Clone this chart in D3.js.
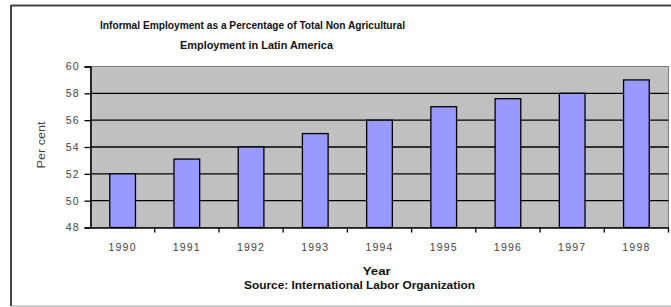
<!DOCTYPE html>
<html><head><meta charset="utf-8">
<script src="https://cdn.jsdelivr.net/npm/d3@7"></script>
<style>html,body{margin:0;padding:0;background:#fff;}svg{display:block;}</style>
</head><body>
<svg id="c" width="671" height="307"></svg>
<script>
const years = ["1990","1991","1992","1993","1994","1995","1996","1997","1998"];
const values = [52.0, 53.1, 54.0, 55.0, 56.0, 57.0, 57.6, 58.0, 59.0];
const yTicks = [48, 50, 52, 54, 56, 58, 60];
const titleLines = ["Informal Employment as a Percentage of Total Non Agricultural", "Employment in Latin America"];
const xTitle = "Year";
const sourceText = "Source: International Labor Organization";
const yTitle = "Per cent";

const svg = d3.select("#c");
const W = 671, H = 307;
const m = {l: 90.5, r: 668.5, t: 66.5, b: 227.5};
const tf = "Liberation Sans, Arial, sans-serif";

// outer frame
svg.append("line").attr("x1",11).attr("x2",W).attr("y1",5.5).attr("y2",5.5).attr("stroke","#444").attr("stroke-width",2);
svg.append("line").attr("x1",11).attr("x2",11).attr("y1",5).attr("y2",306).attr("stroke","#444").attr("stroke-width",2);
svg.append("line").attr("x1",11).attr("x2",W).attr("y1",306).attr("y2",306).attr("stroke","#999").attr("stroke-width",1);

const x = d3.scaleBand().domain(years).range([m.l, m.r]).paddingInner(0.6).paddingOuter(0.3);
const xb = d3.scaleBand().domain(years).range([m.l, m.r]);
const y = d3.scaleLinear().domain([48, 60]).range([m.b, m.t]);

// plot background
svg.append("rect").attr("x",m.l).attr("y",m.t).attr("width",m.r-m.l).attr("height",m.b-m.t)
  .attr("fill","#c0c0c0").attr("stroke","#808080").attr("stroke-width",1);

// gridlines
svg.append("g").selectAll("line").data(yTicks.filter(t => t>48 && t<60)).join("line")
  .attr("x1",m.l).attr("x2",m.r).attr("y1",d=>y(d)).attr("y2",d=>y(d))
  .attr("stroke","#000").attr("stroke-width",1.3);

// bars
svg.append("g").selectAll("rect").data(values).join("rect")
  .attr("x",(d,i)=>x(years[i])).attr("width",x.bandwidth())
  .attr("y",d=>y(d)).attr("height",d=>y(48)-y(d))
  .attr("fill","#9999ff").attr("stroke","#000").attr("stroke-width",1.3);

// y axis
const ya = svg.append("g").attr("transform",`translate(${m.l},0)`)
  .call(d3.axisLeft(y).tickValues(yTicks).tickSize(6).tickPadding(5));
ya.select(".domain").attr("stroke","#000").attr("stroke-width",1.5);
ya.selectAll(".tick line").attr("stroke","#000").attr("stroke-width",1.3);
ya.selectAll("text").attr("font-family",tf).attr("font-size",10.5).attr("letter-spacing",1).attr("fill","#444");

// x axis
const xa = svg.append("g").attr("transform",`translate(0,${m.b})`)
  .call(d3.axisBottom(xb).tickSize(0).tickPadding(16));
xa.select(".domain").attr("stroke","#000").attr("stroke-width",1.5);
xa.selectAll("text").attr("font-family",tf).attr("font-size",10.5).attr("letter-spacing",1.2).attr("fill","#444");
svg.append("g").selectAll("line").data(years.slice(1).concat(["end"])).join("line")
  .attr("x1",(d,i)=> i<years.length-1 ? xb(d) : m.r).attr("x2",(d,i)=> i<years.length-1 ? xb(d) : m.r)
  .attr("y1",m.b).attr("y2",m.b+5).attr("stroke","#000").attr("stroke-width",1.3);

// titles
svg.append("text").attr("x",252.5).attr("y",29).attr("text-anchor","middle").attr("font-family",tf)
  .attr("font-weight","bold").attr("font-size",11.5).attr("fill","#111")
  .attr("textLength",305).attr("lengthAdjust","spacingAndGlyphs").text(titleLines[0]);
svg.append("text").attr("x",256.5).attr("y",49).attr("text-anchor","middle").attr("font-family",tf)
  .attr("font-weight","bold").attr("font-size",11.5).attr("fill","#111")
  .attr("textLength",153).attr("lengthAdjust","spacingAndGlyphs").text(titleLines[1]);
svg.append("text").attr("x",376.7).attr("y",275).attr("text-anchor","middle").attr("font-family",tf)
  .attr("font-weight","bold").attr("font-size",11).attr("fill","#111")
  .attr("textLength",28).attr("lengthAdjust","spacingAndGlyphs").text(xTitle);
svg.append("text").attr("x",359.5).attr("y",289).attr("text-anchor","middle").attr("font-family",tf)
  .attr("font-weight","bold").attr("font-size",10.5).attr("fill","#111")
  .attr("textLength",231).attr("lengthAdjust","spacingAndGlyphs").text(sourceText);
svg.append("text").attr("transform",`translate(45,145) rotate(-90)`).attr("text-anchor","middle").attr("font-family",tf)
  .attr("font-size",11).attr("fill","#444")
  .attr("textLength",47).attr("lengthAdjust","spacingAndGlyphs").text(yTitle);
</script>
</body></html>
